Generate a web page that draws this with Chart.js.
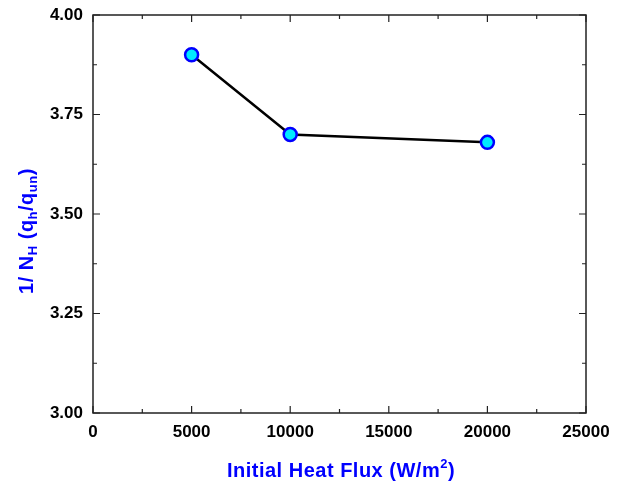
<!DOCTYPE html>
<html>
<head>
<meta charset="utf-8">
<script src="https://cdn.jsdelivr.net/npm/chart.js@4"></script>
<style>
  html, body { margin: 0; padding: 0; background: #fff; }
  #wrap { width: 624px; height: 483px; }
</style>
</head>
<body>
<div id="wrap"><canvas id="chart" width="624" height="483"></canvas></div>
<script>
// data
const heatFlux = [5000, 10000, 20000];
const inverseNH = [3.90, 3.70, 3.68];
const xTicks = [0, 5000, 10000, 15000, 20000, 25000];
const yTicks = [3.00, 3.25, 3.50, 3.75, 4.00];

const FONT = '"Liberation Sans", Arial, sans-serif';
const BLUE = '#0000ff';

// frame with inward ticks on all four sides (Origin style)
const framePlugin = {
  id: 'frame',
  afterDraw(chart) {
    const { ctx, chartArea: a, scales } = chart;
    const xs = scales.x, ys = scales.y;
    ctx.save();
    ctx.strokeStyle = '#222';
    ctx.lineWidth = 1.5;
    ctx.strokeRect(a.left, a.top, a.right - a.left, a.bottom - a.top);
    ctx.lineWidth = 1.2;
    ctx.beginPath();
    for (let v = 0; v <= 25000; v += 2500) {
      const px = xs.getPixelForValue(v);
      const len = v % 5000 === 0 ? 7 : 4;
      ctx.moveTo(px, a.bottom); ctx.lineTo(px, a.bottom - len);
      ctx.moveTo(px, a.top); ctx.lineTo(px, a.top + len);
    }
    for (let i = 0; i <= 8; i++) {
      const v = 3 + i * 0.125;
      const py = ys.getPixelForValue(v);
      const len = i % 2 === 0 ? 7 : 4;
      ctx.moveTo(a.left, py); ctx.lineTo(a.left + len, py);
      ctx.moveTo(a.right, py); ctx.lineTo(a.right - len, py);
    }
    ctx.stroke();

    // axis titles with sub/superscripts
    ctx.fillStyle = BLUE;
    ctx.textBaseline = 'alphabetic';

    const drawRuns = (runs, cx, cy, rotate, bigFont, smallFont, spacing) => {
      ctx.save();
      ctx.translate(cx, cy);
      if (rotate) ctx.rotate(-Math.PI / 2);
      ctx.letterSpacing = spacing;
      let total = 0;
      runs.forEach(r => { ctx.font = r.sm ? smallFont : bigFont; total += ctx.measureText(r.t).width; });
      let x = -total / 2;
      runs.forEach(r => {
        ctx.font = r.sm ? smallFont : bigFont;
        ctx.fillText(r.t, x, r.dy || 0);
        x += ctx.measureText(r.t).width;
      });
      ctx.restore();
    };

    drawRuns([
      { t: 'Initial Heat Flux (W/m' },
      { t: '2', sm: true, dy: -9 },
      { t: ')' }
    ], 341, 477, false, 'bold 20px ' + FONT, 'bold 13px ' + FONT, '0.5px');

    drawRuns([
      { t: '1/ N' },
      { t: 'H', sm: true, dy: 4 },
      { t: ' (q' },
      { t: 'h', sm: true, dy: 4 },
      { t: '/q' },
      { t: 'un', sm: true, dy: 4 },
      { t: ')' }
    ], 33, 231, true, 'bold 20px ' + FONT, 'bold 13px ' + FONT, '0.5px');
    ctx.restore();
  }
};

new Chart(document.getElementById('chart'), {
  type: 'scatter',
  data: {
    datasets: [{
      data: heatFlux.map((x, i) => ({ x: x, y: inverseNH[i] })),
      showLine: true,
      borderColor: '#000',
      borderWidth: 2.5,
      pointRadius: 6.5,
      pointHoverRadius: 6.5,
      pointBackgroundColor: '#00eaff',
      pointBorderColor: BLUE,
      pointBorderWidth: 2.5
    }]
  },
  options: {
    responsive: false,
    animation: false,
    layout: { padding: { top: 15, right: 38, left: 0, bottom: 0 } },
    plugins: { legend: { display: false }, tooltip: { enabled: false } },
    scales: {
      x: {
        type: 'linear',
        min: 0, max: 25000,
        afterBuildTicks: s => { s.ticks = xTicks.map(v => ({ value: v })); },
        afterFit: s => { s.height = 70; s.paddingLeft = 0; s.paddingRight = 0; },
        grid: { display: false, drawTicks: false },
        border: { display: false },
        ticks: {
          padding: 9,
          maxRotation: 0,
          color: '#000',
          font: { family: FONT, size: 17, weight: 'bold' },
          callback: v => String(v)
        }
      },
      y: {
        min: 3, max: 4,
        afterBuildTicks: s => { s.ticks = yTicks.map(v => ({ value: v })); },
        afterFit: s => { s.width = 93; s.paddingTop = 0; s.paddingBottom = 0; },
        grid: { display: false, drawTicks: false },
        border: { display: false },
        ticks: {
          padding: 10,
          color: '#000',
          font: { family: FONT, size: 17, weight: 'bold' },
          callback: v => Number(v).toFixed(2)
        }
      }
    }
  },
  plugins: [framePlugin]
});
</script>
</body>
</html>
